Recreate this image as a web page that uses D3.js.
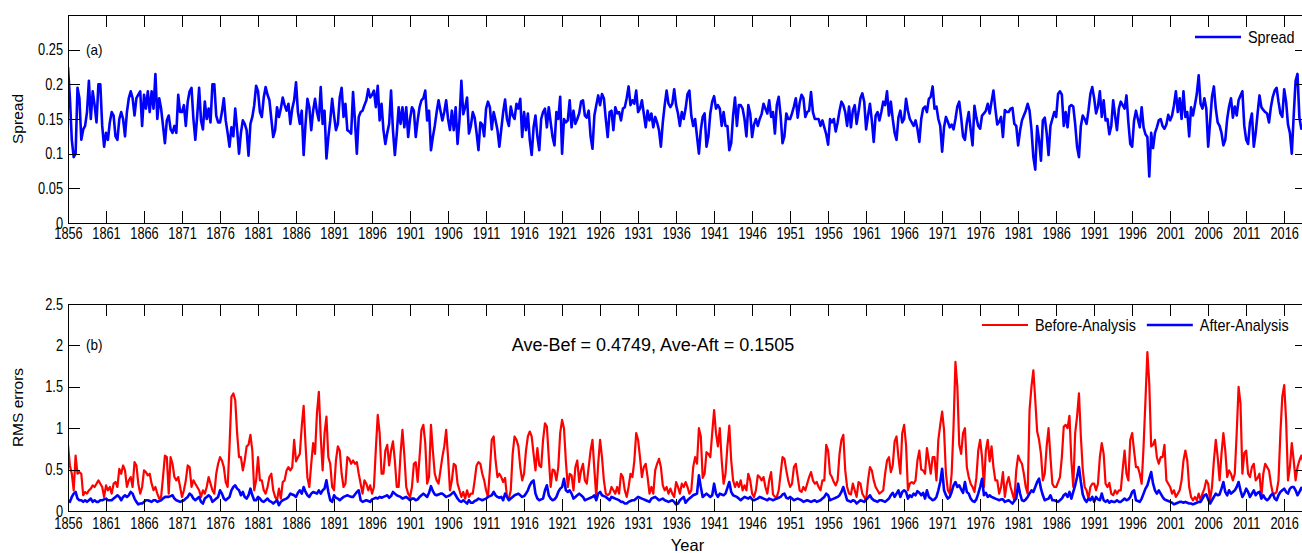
<!DOCTYPE html>
<html>
<head>
<meta charset="utf-8">
<title>Spread and RMS errors</title>
<script src="https://cdn.jsdelivr.net/npm/d3@7/dist/d3.min.js"></script>
<style>
  body { margin: 0; background: #fff; }
  svg { display: block; }
  text { font-family: "Liberation Sans", Arial, Helvetica, sans-serif; fill: #000; }
</style>
</head>
<body>
<svg id="chart"></svg>
<script>
var size = {width: 1302, height: 553}

// series at quarter-year steps, starting Jan 1856
var firstYear = 1856
var lastYear = 2019
var stepYear = 0.25

var yearTicks = d3.range(1856, 2017, 5)
var spreadTicks = [0, 0.05, 0.1, 0.15, 0.2, 0.25]
var rmsTicks = [0, 0.5, 1, 1.5, 2, 2.5]

var spread = [
  // 1856-1859
  .225,.18,.12,.095, .10,.195,.18,.12, .135,.14,.16,.205, .15,.19,.17,.145,
  // 1860-1863
  .20,.20,.14,.11, .13,.12,.145,.16, .155,.125,.12,.15, .16,.15,.125,.16,
  // 1864-1867
  .18,.19,.18,.155, .18,.185,.19,.14, .185,.165,.19,.16, .19,.165,.215,.15,
  // 1868-1871
  .18,.165,.14,.115, .148,.155,.135,.13, .14,.13,.185,.16, .16,.17,.14,.175,
  // 1872-1875
  .19,.195,.15,.12, .155,.195,.148,.135, .175,.15,.165,.145, .20,.20,.155,.145,
  // 1876-1879
  .145,.16,.18,.148, .13,.11,.138,.125, .165,.135,.10,.13, .148,.143,.134,.097,
  // 1880-1883
  .143,.153,.17,.198, .19,.16,.153,.181, .196,.185,.177,.15, .124,.134,.167,.153,
  // 1884-1887
  .165,.181,.17,.162, .172,.143,.165,.177, .203,.16,.143,.162, .098,.143,.179,.167,
  // 1888-1891
  .134,.162,.179,.16, .148,.196,.143,.162, .093,.124,.148,.179, .155,.134,.143,.181,
  // 1892-1895
  .195,.153,.172,.134, .132,.129,.189,.148, .10,.153,.16,.162, .17,.177,.193,.181,
  // 1896-1899
  .185,.191,.167,.198, .148,.172,.134,.114, .13,.143,.191,.134, .098,.129,.167,.143,
  // 1900-1903
  .167,.138,.167,.124, .15,.167,.162,.124, .148,.167,.177,.18, .191,.148,.162,.105,
  // 1904-1907
  .124,.14,.16,.177, .162,.148,.16,.177, .15,.134,.162,.134, .167,.114,.148,.205,
  // 1908-1911
  .157,.167,.181,.129, .14,.16,.152,.13, .105,.145,.142,.125, .165,.175,.167,.135,
  // 1912-1915
  .16,.148,.134,.11, .135,.16,.178,.15, .14,.168,.155,.15, .172,.165,.179,.124,
  // 1916-1919
  .16,.134,.158,.12, .098,.138,.155,.125, .105,.15,.16,.165, .138,.167,.145,.124,
  // 1920-1923
  .112,.16,.15,.182, .10,.15,.145,.148, .177,.138,.162,.143, .15,.158,.175,.177,
  // 1924-1927
  .155,.152,.162,.125, .107,.155,.17,.184, .17,.186,.18,.15, .124,.16,.162,.134,
  // 1928-1931
  .167,.158,.16,.148, .165,.167,.18,.197, .17,.177,.172,.191, .16,.165,.177,.158,
  // 1932-1935
  .138,.162,.148,.158, .138,.153,.145,.134, .11,.145,.17,.191, .172,.167,.172,.193,
  // 1936-1939
  .17,.158,.14,.16, .15,.165,.186,.191, .155,.14,.15,.125, .10,.134,.153,.158,
  // 1940-1943
  .11,.125,.158,.175, .183,.165,.17,.165, .14,.16,.14,.14, .105,.115,.155,.181,
  // 1944-1947
  .14,.17,.17,.165, .15,.125,.17,.158, .124,.142,.15,.14, .15,.157,.172,.165,
  // 1948-1951
  .158,.177,.153,.16, .129,.17,.182,.155, .115,.125,.158,.15, .15,.158,.168,.18,
  // 1952-1955
  .152,.173,.185,.18, .153,.16,.162,.189, .16,.15,.15,.15, .14,.148,.138,.128,
  // 1956-1959
  .113,.15,.145,.15, .132,.145,.162,.175, .17,.16,.14,.168, .138,.162,.17,.143,
  // 1960-1963
  .16,.18,.187,.175, .135,.155,.172,.148, .117,.155,.16,.148, .16,.175,.17,.19,
  // 1964-1967
  .155,.175,.15,.13, .12,.152,.162,.145, .15,.179,.162,.15, .145,.14,.148,.136,
  // 1968-1971
  .117,.15,.165,.168, .16,.179,.182,.197, .165,.168,.15,.14, .103,.138,.153,.146,
  // 1972-1975
  .138,.142,.135,.15, .168,.175,.152,.125, .12,.145,.16,.135, .112,.169,.152,.14,
  // 1976-1979
  .136,.155,.158,.162, .172,.158,.175,.191, .165,.142,.146,.153, .124,.163,.16,.16,
  // 1980-1983
  .165,.166,.143,.14, .112,.133,.148,.155, .162,.172,.162,.135, .095,.077,.14,.12,
  // 1984-1987
  .09,.148,.152,.13, .098,.14,.15,.16, .153,.186,.19,.185, .14,.16,.138,.168,
  // 1988-1991
  .17,.168,.143,.11, .095,.14,.155,.15, .143,.162,.186,.196, .18,.158,.168,.19,
  // 1992-1995
  .153,.177,.148,.15, .128,.14,.177,.155, .134,.165,.175,.17, .165,.184,.145,.114,
  // 1996-1999
  .11,.148,.162,.15, .138,.167,.138,.128, .124,.067,.13,.108, .13,.138,.148,.15,
  // 2000-2003
  .14,.136,.142,.156, .148,.155,.17,.19, .16,.18,.15,.19, .153,.16,.125,.167,
  // 2004-2007
  .155,.17,.186,.213, .172,.165,.18,.165, .11,.145,.182,.197, .165,.145,.14,.13,
  // 2008-2011
  .112,.12,.15,.168, .18,.152,.168,.155, .177,.184,.19,.14, .12,.114,.145,.158,
  // 2012-2015
  .11,.13,.158,.184, .167,.163,.16,.158, .145,.167,.182,.191, .195,.175,.158,.153,
  // 2016-2018
  .193,.175,.142,.13, .10,.155,.205,.215, .152,.136,.14,.15
]

var beforeAnalysis = [
  // 1856-1859
  .80,.55,.45,.25, .67,.45,.47,.45, .19,.23,.21,.25, .27,.31,.29,.33,
  // 1860-1863
  .37,.33,.29,.17, .31,.25,.29,.21, .33,.35,.29,.51, .45,.55,.49,.29,
  // 1864-1867
  .37,.41,.29,.59, .55,.33,.21,.29, .49,.47,.43,.45, .33,.25,.29,.21,
  // 1868-1871
  .15,.17,.41,.67, .65,.21,.65,.57, .41,.37,.41,.29, .17,.25,.37,.55,
  // 1872-1875
  .53,.29,.37,.33, .29,.25,.17,.25, .21,.29,.41,.33, .25,.21,.45,.57,
  // 1876-1879
  .65,.61,.53,.35, .29,.78,1.38,1.42, 1.34,.94,.65,.65, .49,.61,.78,.80,
  // 1880-1883
  .92,.73,.25,.37, .65,.37,.37,.25, .21,.29,.41,.45, .25,.17,.13,.27,
  // 1884-1887
  .15,.35,.37,.49, .53,.49,.53,.86, .60,.65,.69,1.02, 1.27,.80,.40,.29,
  // 1888-1891
  .57,.82,.69,1.18, 1.44,.90,.49,.94, 1.14,.65,.57,.29, .25,.61,.78,.73,
  // 1892-1895
  .45,.29,.33,.65, .63,.57,.61,.57, .59,.45,.33,.21, .37,.33,.25,.31,
  // 1896-1899
  .21,.29,.75,1.16, .94,.45,.45,.73, .80,.55,.73,.84, .61,.29,.29,.69,
  // 1900-1903
  .98,.67,.29,.21, .17,.29,.57,.59, .35,.65,.98,1.04, .82,.33,.41,1.04,
  // 1904-1907
  .73,.45,.37,.33, .49,.65,.78,.98, .65,.25,.37,.57, .55,.33,.25,.17,
  // 1908-1911
  .23,.15,.25,.17, .21,.21,.37,.55, .59,.57,.45,.37, .25,.17,.49,.86,
  // 1912-1915
  .90,.61,.41,.45, .41,.35,.40,.17, .15,.25,.69,.90, .86,.78,.53,.37,
  // 1916-1919
  .45,.73,.90,.96, .90,.69,.49,.76, .55,.53,.86,1.06, 1.02,.65,.29,.50,
  // 1920-1923
  .49,.37,.53,.94, 1.10,1.00,.60,.29, .45,.43,.25,.53, .61,.35,.49,.57,
  // 1924-1927
  .37,.33,.53,.73, .86,.50,.17,.57, .86,.65,.37,.21, .19,.21,.29,.25,
  // 1928-1931
  .21,.29,.21,.45, .41,.25,.17,.29, .45,.41,.60,.94, .86,.65,.41,.53,
  // 1932-1935
  .57,.41,.21,.29, .21,.49,.57,.63, .53,.31,.25,.29, .21,.27,.21,.17,
  // 1936-1939
  .35,.29,.21,.33, .29,.35,.29,.21, .25,.53,.65,.57, 1.00,.90,.40,.45,
  // 1940-1943
  .71,.69,.65,.94, 1.22,.94,.78,1.00, .61,.33,.45,.78, 1.03,.61,.37,.29,
  // 1944-1947
  .35,.29,.37,.25, .31,.25,.45,.37, .21,.17,.25,.43, .41,.37,.41,.29,
  // 1948-1951
  .21,.37,.47,.20, .17,.17,.25,.45, .65,.63,.49,.37, .29,.33,.53,.57,
  // 1952-1955
  .41,.25,.23,.29, .25,.33,.41,.47, .37,.33,.35,.29, .25,.37,.37,.80,
  // 1956-1959
  .73,.45,.41,.35, .31,.37,.69,.86, .92,.49,.29,.21, .20,.33,.25,.17,
  // 1960-1963
  .35,.33,.21,.17, .13,.37,.53,.49, .37,.29,.25,.21, .23,.25,.45,.61,
  // 1964-1967
  .65,.47,.55,.84, .90,.65,.45,.94, 1.04,.80,.25,.33, .35,.33,.37,.61,
  // 1968-1971
  .73,.50,.49,.45, .76,.61,.45,.65, .65,.37,.86,1.04, 1.20,.98,.45,.25,
  // 1972-1975
  .21,.45,1.02,1.80, 1.50,.80,.69,.94, 1.00,.53,.41,.33, .29,.23,.40,.73,
  // 1976-1979
  .86,.65,.29,.73, .86,.60,.78,.53, .37,.37,.21,.29, .47,.17,.33,.41,
  // 1980-1983
  .29,.21,.13,.49, .67,.61,.57,.45, .29,.21,1.22,1.50, 1.70,1.34,.96,.86,
  // 1984-1987
  .69,.37,.45,.78, 1.00,.65,.33,.29, .29,.35,.41,.65, 1.02,1.04,1.00,1.15,
  // 1988-1991
  .61,.29,.94,1.14, 1.42,.90,.50,.29, .25,.15,.29,.33, .33,.25,.33,.65,
  // 1992-1995
  .82,.69,.33,.29, .34,.21,.19,.25, .21,.25,.25,.50, .73,.45,.37,.86,
  // 1996-1999
  .94,.73,.53,.53, .45,.33,.78,1.34, 1.92,1.54,.78,.80, .86,.65,.57,.65,
  // 2000-2003
  .65,.80,.37,.33, .29,.21,.25,.17, .21,.25,.37,.61, .73,.61,.29,.17,
  // 2004-2007
  .13,.17,.13,.21, .13,.21,.27,.37, .33,.13,.29,.61, .86,.65,.37,.69,
  // 2008-2011
  .94,.73,.41,.49, .45,.37,.45,.94, 1.50,1.30,.45,.70, .73,.45,.41,.53,
  // 2012-2015
  .57,.37,.40,.45, .17,.45,.57,.53, .49,.33,.21,.21, .23,.37,.94,1.38,
  // 2016-2018
  1.52,1.10,.37,.53, .82,.61,.37,.53, .61,.67,.60,.55
]

var afterAnalysis = [
  // 1856-1859
  .13,.11,.17,.21, .23,.15,.13,.13, .11,.13,.11,.13, .15,.11,.13,.11,
  // 1860-1863
  .11,.13,.13,.14, .15,.13,.13,.13, .15,.17,.19,.17, .13,.17,.19,.17,
  // 1864-1867
  .19,.23,.21,.15, .11,.08,.09,.09, .11,.13,.13,.12, .11,.13,.13,.11,
  // 1868-1871
  .12,.13,.15,.17, .17,.17,.18,.19, .15,.13,.12,.11, .12,.13,.15,.17,
  // 1872-1875
  .21,.19,.15,.13, .15,.17,.11,.09, .15,.17,.19,.17, .11,.13,.15,.17,
  // 1876-1879
  .25,.21,.15,.13, .15,.17,.25,.29, .31,.27,.25,.19, .23,.17,.15,.19,
  // 1880-1883
  .27,.19,.13,.13, .17,.15,.12,.11, .13,.15,.12,.11, .09,.11,.13,.07,
  // 1884-1887
  .11,.13,.14,.15, .17,.21,.20,.19, .17,.22,.25,.21, .29,.23,.19,.17,
  // 1888-1891
  .21,.23,.22,.21, .25,.21,.25,.27, .37,.23,.13,.11, .19,.16,.15,.13,
  // 1892-1895
  .15,.17,.18,.19, .18,.17,.17,.20, .23,.25,.13,.11, .12,.13,.12,.11,
  // 1896-1899
  .14,.15,.16,.15, .17,.16,.17,.18, .19,.16,.18,.23, .21,.19,.18,.17,
  // 1900-1903
  .15,.16,.17,.15, .13,.15,.15,.13, .14,.17,.19,.21, .19,.17,.22,.30,
  // 1904-1907
  .24,.20,.19,.20, .21,.21,.19,.17, .18,.19,.21,.23, .19,.15,.12,.11,
  // 1908-1911
  .13,.11,.09,.13, .10,.10,.12,.13, .15,.14,.13,.14, .15,.17,.18,.19,
  // 1912-1915
  .23,.19,.17,.16, .17,.13,.21,.17, .13,.15,.17,.19, .20,.21,.19,.17,
  // 1916-1919
  .18,.21,.25,.31, .35,.37,.21,.15, .13,.14,.15,.25, .31,.19,.15,.13,
  // 1920-1923
  .14,.17,.23,.27, .29,.39,.25,.23, .25,.21,.15,.17, .19,.21,.19,.17,
  // 1924-1927
  .13,.14,.15,.16, .17,.19,.13,.21, .23,.19,.18,.17, .15,.13,.17,.16,
  // 1928-1931
  .15,.14,.13,.11, .11,.09,.09,.11, .12,.13,.13,.15, .17,.16,.15,.14,
  // 1932-1935
  .13,.12,.11,.15, .16,.17,.15,.13, .14,.15,.13,.12, .11,.12,.13,.11,
  // 1936-1939
  .08,.09,.13,.15, .17,.10,.13,.15, .17,.19,.20,.21, .43,.29,.17,.19,
  // 1940-1943
  .21,.19,.17,.19, .33,.21,.17,.21, .20,.19,.21,.28, .35,.23,.19,.18,
  // 1944-1947
  .17,.15,.13,.15, .17,.16,.15,.17, .14,.13,.14,.15, .17,.16,.15,.14,
  // 1948-1951
  .13,.15,.14,.13, .14,.15,.16,.17, .20,.21,.16,.15, .17,.15,.13,.14,
  // 1952-1955
  .15,.14,.13,.11, .12,.13,.12,.11, .12,.13,.11,.12, .13,.15,.17,.21,
  // 1956-1959
  .19,.13,.14,.15, .16,.17,.19,.23, .29,.21,.13,.12, .11,.13,.12,.09,
  // 1960-1963
  .11,.13,.12,.11, .14,.16,.19,.15, .13,.12,.11,.13, .13,.12,.11,.13,
  // 1964-1967
  .15,.19,.22,.17, .21,.25,.17,.23, .25,.23,.15,.19, .17,.21,.19,.24,
  // 1968-1971
  .22,.19,.22,.15, .25,.17,.15,.13, .14,.17,.25,.35, .51,.25,.19,.15,
  // 1972-1975
  .17,.23,.31,.35, .29,.31,.26,.22, .35,.23,.21,.15, .12,.11,.14,.21,
  // 1976-1979
  .29,.39,.19,.22, .17,.19,.17,.16, .15,.14,.13,.14, .14,.11,.12,.13,
  // 1980-1983
  .11,.09,.12,.15, .33,.21,.13,.12, .14,.17,.21,.25, .23,.29,.35,.39,
  // 1984-1987
  .27,.19,.13,.14, .15,.19,.13,.13, .12,.11,.13,.15, .19,.21,.17,.23,
  // 1988-1991
  .15,.23,.31,.41, .53,.35,.20,.14, .11,.15,.13,.17, .11,.17,.14,.13,
  // 1992-1995
  .21,.13,.11,.13, .10,.12,.11,.11, .13,.11,.11,.13, .15,.13,.14,.17,
  // 1996-1999
  .23,.25,.13,.12, .11,.15,.21,.27, .31,.39,.47,.33, .25,.21,.25,.21,
  // 2000-2003
  .17,.14,.13,.12, .11,.10,.08,.09, .10,.11,.11,.10, .11,.10,.09,.09,
  // 2004-2007
  .08,.09,.10,.11, .11,.15,.19,.20, .14,.09,.13,.17, .21,.19,.20,.27,
  // 2008-2011
  .35,.23,.19,.25, .21,.23,.25,.29, .35,.25,.17,.21, .27,.23,.17,.21,
  // 2012-2015
  .25,.19,.22,.23, .15,.19,.15,.13, .15,.19,.21,.15, .13,.19,.23,.25,
  // 2016-2018
  .27,.23,.21,.27, .29,.29,.25,.19, .23,.28,.25,.22
]

var aveText = "Ave-Bef = 0.4749, Ave-Aft = 0.1505"

var plotLeft = 68
var plotRight = 1307

// the source figure is squeezed sideways, so its text is narrower than it is tall
var tickFont = 16
var tickSqueeze = 0.8
var legendFont = 16
var legendSqueeze = 0.9

var panels = [
  {top: 15, bottom: 223, max: 0.3, ticks: spreadTicks, ylabel: "Spread",
   tag: {text: "(a)", x: 86, y: 55},
   labelPad: 5, legend: {x: 1195, y: 37},
   series: [{name: "Spread", values: spread, color: "#0000ff", width: 2.6}]},
  {top: 304, bottom: 511, max: 2.5, ticks: rmsTicks, ylabel: "RMS errors",
   tag: {text: "(b)", x: 86, y: 350},
   labelPad: 7, legend: {x: 982, y: 325},
   series: [{name: "Before-Analysis", values: beforeAnalysis, color: "#ff0000", width: 2.2},
            {name: "After-Analysis", values: afterAnalysis, color: "#0000ff", width: 2.6}]}
]

var svg = d3.select("#chart")
  .attr("width", size.width)
  .attr("height", size.height)

var x = d3.scaleLinear().domain([firstYear, lastYear]).range([plotLeft, plotRight])

var makeLine = function(y)
{
  return d3.line()
    .x(function(d, i) { return x(firstYear + i * stepYear) })
    .y(function(d) { return y(d) })
}

var styleAxis = function(g)
{
  g.select(".domain").remove()
  g.selectAll(".tick line").attr("stroke", "#000").attr("shape-rendering", "crispEdges")
  g.selectAll(".tick text")
    .attr("font-family", '"Liberation Sans", Arial, Helvetica, sans-serif')
    .attr("font-size", tickFont)
    .attr("fill", "#000")
}

panels.forEach(function(p, n)
{
  var y = d3.scaleLinear().domain([0, p.max]).range([p.bottom, p.top])
  var g = svg.append("g")

  svg.append("clipPath").attr("id", "clip" + n)
    .append("rect")
    .attr("x", plotLeft).attr("y", p.top)
    .attr("width", plotRight - plotLeft).attr("height", p.bottom - p.top)

  // lines
  g.append("g")
    .attr("clip-path", "url(#clip" + n + ")")
    .selectAll("path")
    .data(p.series)
    .enter()
    .append("path")
    .attr("fill", "none")
    .attr("stroke", function(s) { return s.color })
    .attr("stroke-width", function(s) { return s.width })
    .attr("stroke-linejoin", "round")
    .attr("d", function(s) { return makeLine(y)(s.values) })

  // box
  g.append("rect")
    .attr("x", plotLeft + 0.5).attr("y", p.top + 0.5)
    .attr("width", plotRight - plotLeft).attr("height", p.bottom - p.top)
    .attr("fill", "none").attr("stroke", "#000").attr("stroke-width", 1)

  // ticks point inward on all four sides
  var blank = function() { return "" }
  g.append("g").attr("transform", "translate(0," + p.bottom + ")")
    .call(d3.axisBottom(x).tickValues(yearTicks).tickFormat(d3.format("d"))
      .tickSizeInner(-12).tickSizeOuter(0).tickPadding(p.labelPad))
    .call(styleAxis)
    .selectAll(".tick text")
    .attr("transform", "scale(" + tickSqueeze + ",1)")
  g.append("g").attr("transform", "translate(0," + p.top + ")")
    .call(d3.axisTop(x).tickValues(yearTicks).tickFormat(blank)
      .tickSizeInner(-12).tickSizeOuter(0))
    .call(styleAxis)
  g.append("g").attr("transform", "translate(" + plotLeft + ",0)")
    .call(d3.axisLeft(y).tickValues(p.ticks).tickFormat(function(d) { return String(d) })
      .tickSizeInner(-12).tickSizeOuter(0).tickPadding(5))
    .call(styleAxis)
    .selectAll(".tick text")
    .attr("x", -5 / tickSqueeze)
    .attr("transform", "scale(" + tickSqueeze + ",1)")
  g.append("g").attr("transform", "translate(" + plotRight + ",0)")
    .call(d3.axisRight(y).tickValues(p.ticks).tickFormat(blank)
      .tickSizeInner(-12).tickSizeOuter(0))
    .call(styleAxis)

  // y label
  g.append("text")
    .attr("transform", "translate(23," + ((p.top + p.bottom) / 2) + ") rotate(-90)")
    .attr("text-anchor", "middle")
    .attr("font-size", 15.5)
    .text(p.ylabel)

  // panel tag
  g.append("text")
    .attr("transform", "translate(" + p.tag.x + "," + p.tag.y + ") scale(" + legendSqueeze + ",1)")
    .attr("font-size", 15)
    .text(p.tag.text)

  // legend
  var lx = p.legend.x
  p.series.forEach(function(s)
  {
    g.append("line")
      .attr("x1", lx).attr("x2", lx + 46)
      .attr("y1", p.legend.y).attr("y2", p.legend.y)
      .attr("stroke", s.color).attr("stroke-width", s.width)
    var t = g.append("text")
      .attr("transform", "translate(" + (lx + 53) + "," + p.legend.y + ") scale(" + legendSqueeze + ",1)")
      .attr("dy", "0.36em")
      .attr("font-size", legendFont)
      .text(s.name)
    lx = lx + 53 + t.node().getComputedTextLength() * legendSqueeze + 11
  })
})

svg.append("text")
  .attr("x", 653).attr("y", 351)
  .attr("text-anchor", "middle")
  .attr("font-size", 18)
  .text(aveText)

svg.append("text")
  .attr("x", (plotLeft + plotRight) / 2).attr("y", 551)
  .attr("text-anchor", "middle")
  .attr("font-size", 16.5)
  .text("Year")
</script>
</body>
</html>
